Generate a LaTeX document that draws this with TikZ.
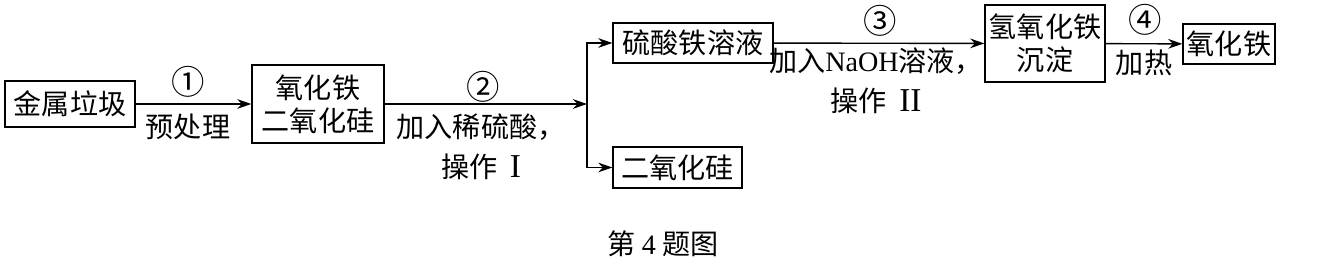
\documentclass[tikz,border=0pt]{standalone}
\usepackage{fontspec}
\newfontfamily\cjk{Noto Sans CJK SC}
\newfontfamily\latin{Liberation Serif}
\newcommand\romnum[1]{\hspace{0.45em}{\latin\fontsize{19}{22.8}\selectfont #1}}
\usetikzlibrary{arrows.meta}
\tikzset{
  box/.style={draw,line width=0.8pt,inner sep=0pt,align=center,
    font=\cjk\fontsize{16}{18.8}\selectfont},
  lbl/.style={inner sep=0pt,align=center,font=\cjk\fontsize{16}{22.8}\selectfont},
  num/.style={inner sep=0pt,font=\cjk\fontsize{19}{19}\selectfont},
  flow/.style={line width=0.8pt,-{Stealth[length=8pt,width=5.5pt]}}
}

\begin{document}
\begin{tikzpicture}[x=0.02cm,y=-0.02cm]
    \useasboundingbox (0,0) rectangle (1343,262);
    % Boxes
    \node[box,minimum width=2.6cm,minimum height=0.92cm] (garbage) at (70,104) {金属垃圾};
    \node[box,minimum width=2.64cm,minimum height=1.56cm] (mix) at (318,104) {氧化铁\\二氧化硅};
    \node[box,minimum width=3.2cm,minimum height=0.8cm] (fes) at (693,43) {硫酸铁溶液};
    \node[box,minimum width=2.58cm,minimum height=0.82cm] (sio2) at (677.5,167.5) {二氧化硅};
    \node[box,minimum width=2.4cm,minimum height=1.54cm] (feoh) at (1045,43.5) {氢氧化铁\\沉淀};
    \node[box,minimum width=1.84cm,minimum height=0.8cm] (fe2o3) at (1229,44) {氧化铁};
    % Arrows
    \coordinate (split) at (587,104);
    \draw[flow] (garbage) -- (mix);
    \draw[flow] (mix) -- (split);
    \draw[flow] (split) |- (fes);
    \draw[flow] (split) |- (sio2);
    \draw[flow] (fes) -- (feoh);
    \draw[flow] (feoh) -- (fe2o3);
    % Step labels
    \node[num] (n1) at (188,82) {①};
    \node[lbl] (t1) at (188,127) {预处理};
    \node[num] (n2) at (483,87) {②};
    \node[lbl] (t2) at (481,147) {加入稀硫酸，\\操作\romnum{I}};
    \node[num] (n3) at (880,21) {③};
    \node[lbl] (t3) at (876,81) {加入{\latin NaOH}溶液，\\操作\romnum{II}};
    \node[num] (n4) at (1145,20) {④};
    \node[lbl] (t4) at (1144,63) {加热};
    \node[lbl] (cap) at (663,244) {第 {\latin 4} 题图};
\end{tikzpicture}
\end{document}
